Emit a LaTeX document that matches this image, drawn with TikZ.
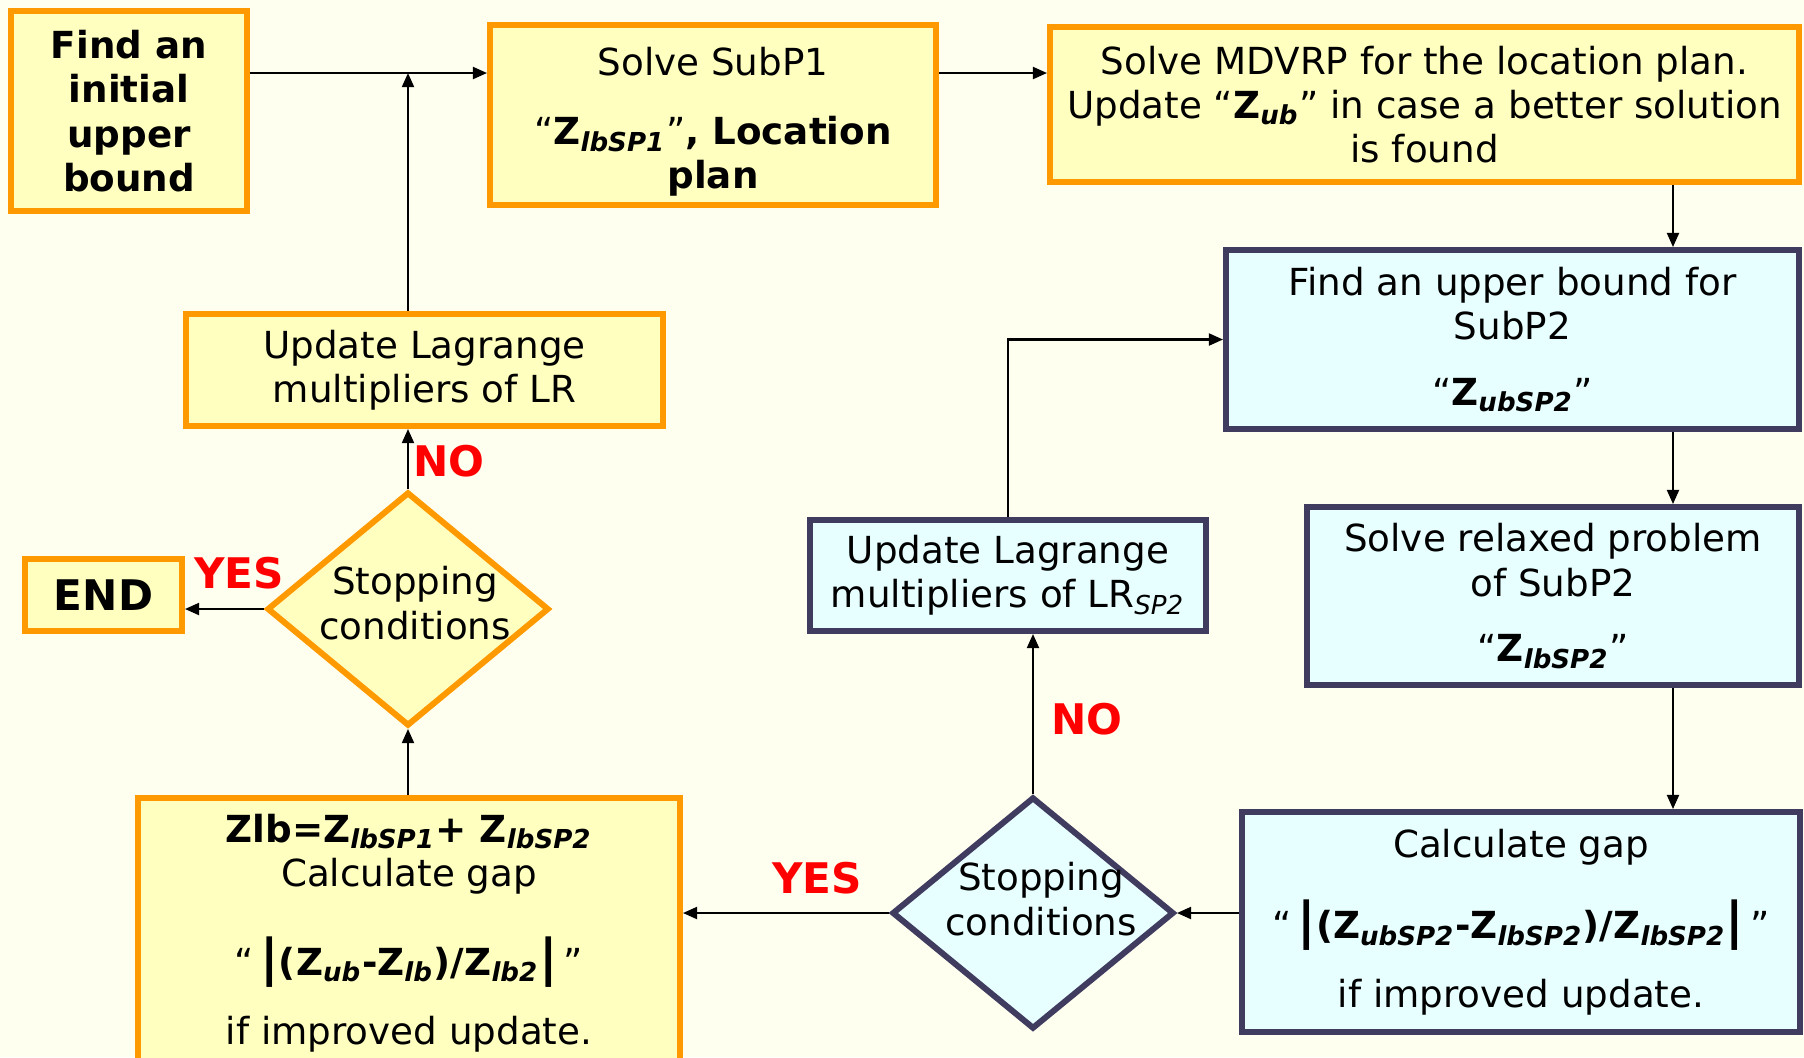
\documentclass[tikz,border=0pt]{standalone}
\usepackage{fontspec}
\setmainfont{DejaVu Sans}
\usetikzlibrary{shapes.geometric,arrows.meta}
\definecolor{bgcream}{HTML}{FFFFF0}
\definecolor{boxyellow}{HTML}{FFFFC0}
\definecolor{boxorange}{HTML}{FF9900}
\definecolor{boxcyan}{HTML}{E8FFFF}
\definecolor{boxnavy}{HTML}{403C60}
\definecolor{labred}{HTML}{FF0000}
\newcommand{\Zsub}[1]{\textbf{Z}\textsubscript{\bfseries\itshape #1}}
\newcommand{\tallbar}{{\Large\textbf{|}}}
\tikzset{
  ybox/.style={rectangle, draw=boxorange, fill=boxyellow, line width=1.7pt, inner sep=0pt, align=center},
  cbox/.style={rectangle, draw=boxnavy, fill=boxcyan, line width=1.7pt, inner sep=0pt, align=center},
  ydiam/.style={diamond, draw=boxorange, fill=boxyellow, line width=1.7pt, inner sep=-3mm, align=center},
  cdiam/.style={diamond, draw=boxnavy, fill=boxcyan, line width=1.7pt, inner sep=-3mm, align=center},
  arr/.style={-{Triangle[length=4pt,width=3.4pt]}, line width=0.6pt},
  lab/.style={text=labred, font=\fontsize{12}{14}\selectfont\bfseries},
}
\begin{document}
\begin{tikzpicture}[x=0.1mm, y=-0.1mm, every node/.style={font=\fontsize{10.6}{12.6}\selectfont}]
	\fill[bgcream] (0,0) rectangle (1804,1057);
	\useasboundingbox (0,0) rectangle (1804,1057);
	\node[ybox, minimum width=23.6mm, minimum height=20mm, font=\fontsize{10.6}{12.6}\selectfont\bfseries] (init) at (129,111) {Find an\\initial\\upper\\bound};
	\node[ybox, minimum width=44.6mm, minimum height=18mm] (sub1) at (713,115) {\rule{0pt}{12pt}Solve SubP1\\[7pt]“\Zsub{lbSP1}”\textbf{, Location}\\\textbf{plan}};
	\node[ybox, minimum width=74.9mm, minimum height=15.5mm] (mdvrp) at (1424.5,104.5) {Solve MDVRP for the location plan.\\Update “\Zsub{ub}” in case a better solution\\is found};
	\node[cbox, minimum width=57.3mm, minimum height=17.9mm] (ubsp2) at (1512.5,339.5) {Find an upper bound for\\SubP2\\[6pt]“\Zsub{ubSP2}”};
	\node[cbox, minimum width=49.2mm, minimum height=17.8mm] (relax) at (1553,596) {Solve relaxed problem\\of SubP2\\[6pt]“\Zsub{lbSP2}”};
	\node[cbox, minimum width=55.8mm, minimum height=22mm] (gap2) at (1521,922) {Calculate gap\\[9pt]“\,\tallbar\textbf{(\Zsub{ubSP2}-\Zsub{lbSP2})/\Zsub{lbSP2}}\tallbar\,”\\[7pt]if improved update.};
	\node[cdiam, minimum width=28.2mm, minimum height=23.2mm] (dR) at (1033,913) {\hspace*{1.6mm}Stopping\\\hspace*{1.6mm}conditions\rule[-8pt]{0pt}{0pt}};
	\node[cbox, minimum width=39.6mm, minimum height=11.1mm] (lrsp2) at (1008,575.5) {Update Lagrange\\multipliers of LR\textsubscript{\itshape SP2}};
	\node[ybox, minimum width=54.2mm, anchor=north, inner ysep=1.6mm, text depth=26mm] (zlb) at (409,795) {\textbf{Zlb=\Zsub{lbSP1}+ \Zsub{lbSP2}}\\Calculate gap\\[11pt]“\,\tallbar\textbf{(\Zsub{ub}-\Zsub{lb})/\Zsub{lb2}}\tallbar\,”\\[7pt]if improved update.};
	\node[ydiam, minimum width=28.2mm, minimum height=23.4mm] (dL) at (408,609) {\hspace*{1.4mm}Stopping\\\hspace*{1.4mm}conditions\rule[-3.5pt]{0pt}{0pt}};
	\node[ybox, minimum width=47.7mm, minimum height=11.2mm] (lr) at (424.5,370) {Update Lagrange\\multipliers of LR};
	\node[ybox, minimum width=15.7mm, minimum height=7.2mm, font=\fontsize{12}{14}\selectfont\bfseries] (end) at (103.5,595) {END};
	\node[lab] (noL) at (449,461) {NO};
	\node[lab] (yesL) at (239,573) {YES};
	\node[lab] (yesR) at (817,878) {YES};
	\node[lab] (noR) at (1087,719) {NO};
	\coordinate (j) at (408,73);
	\coordinate (rx) at (1673,300);
	\draw[arr] (init.east |- j) -- (j -| sub1.west);
	\draw[arr] (sub1.east |- j) -- (j -| mdvrp.west);
	\draw[arr] (rx |- mdvrp.south) -- (rx |- ubsp2.north);
	\draw[arr] (rx |- ubsp2.south) -- (rx |- relax.north);
	\draw[arr] (rx |- relax.south) -- (rx |- gap2.north);
	\draw[arr] (dR.east -| gap2.west) -- (dR.east);
	\draw[arr] (dR.north) -- (dR.north |- lrsp2.south);
	\draw[arr] (lrsp2.north) |- (ubsp2.west);
	\draw[arr] (dR.west) -- (dR.west -| zlb.east);
	\draw[arr] (zlb.north -| dL.south) -- (dL.south);
	\draw[arr] (dL.north) -- (dL.north |- lr.south);
	\draw[arr] (dL.west) -- (dL.west -| end.east);
	\draw[arr] (dL.north |- lr.north) -- (j);
\end{tikzpicture}
\end{document}
